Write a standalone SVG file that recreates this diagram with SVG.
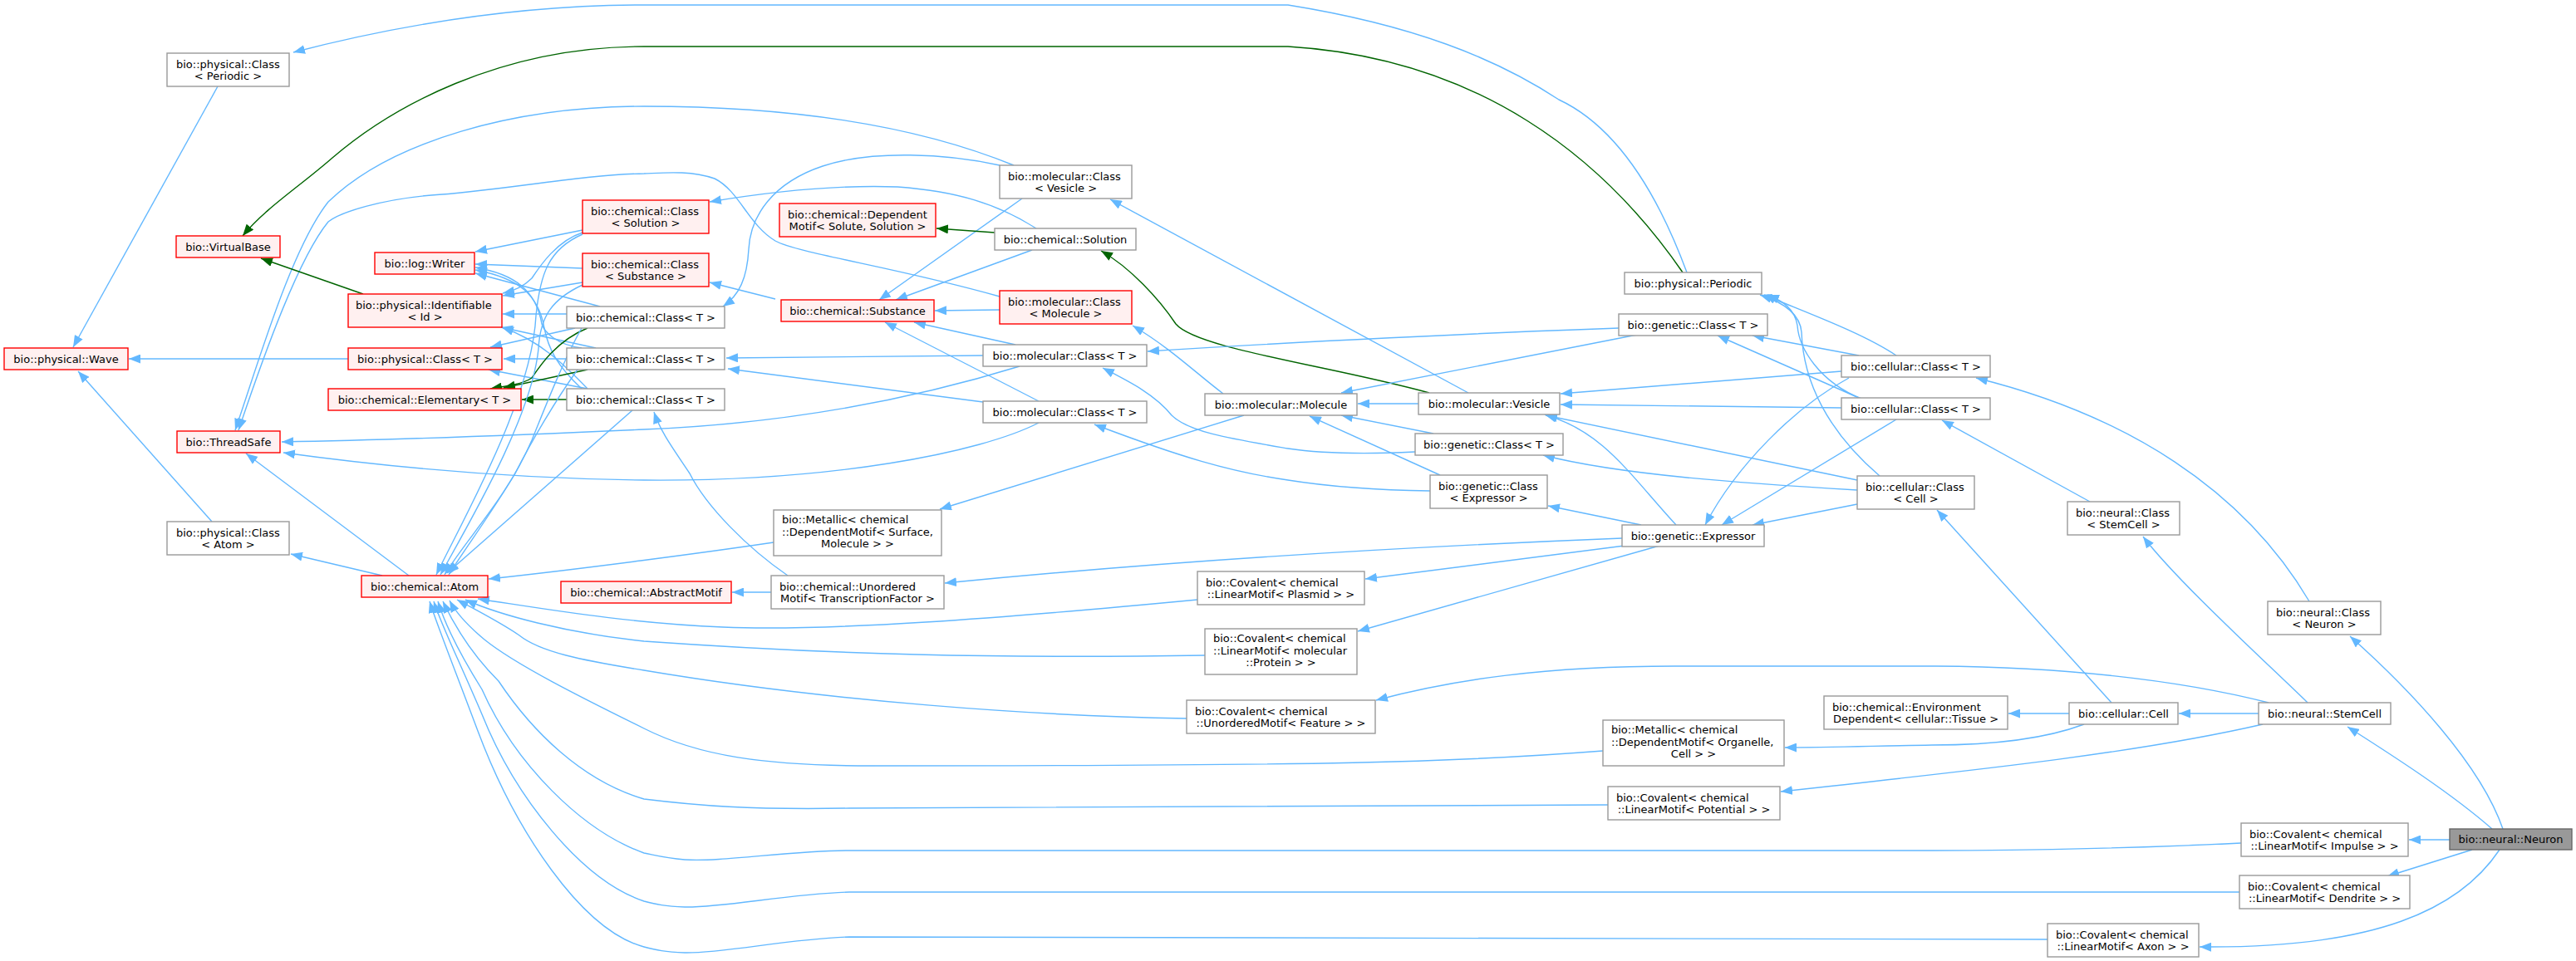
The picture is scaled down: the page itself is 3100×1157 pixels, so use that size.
<svg xmlns="http://www.w3.org/2000/svg" width="3100" height="1157" viewBox="0 0 3100 1157">
<style>
.bg{fill:#ffffff}
.nr{fill:#fff0f0;stroke:#ff0000;stroke-width:1.4}
.nw{fill:#ffffff;stroke:#999999;stroke-width:1.4}
.ng{fill:#999999;stroke:#666666;stroke-width:1.4}
text{font-family:"DejaVu Sans","Liberation Sans",sans-serif;font-size:13px;fill:#000000}
.c{text-anchor:middle}
.l{text-anchor:start}
.e{fill:none;stroke:#63b8ff;stroke-width:1.4;marker-end:url(#ab)}
.g{fill:none;stroke:#006400;stroke-width:1.4;marker-end:url(#ag)}
</style>
<defs>
<marker id="ab" markerUnits="userSpaceOnUse" markerWidth="15" markerHeight="11" refX="14" refY="5.5" orient="auto"><path d="M0,0 L14,5.5 L0,11 z" fill="#63b8ff"/></marker>
<marker id="ag" markerUnits="userSpaceOnUse" markerWidth="15" markerHeight="11" refX="14" refY="5.5" orient="auto"><path d="M0,0 L14,5.5 L0,11 z" fill="#006400"/></marker>
</defs>
<rect class="bg" x="0" y="0" width="3100" height="1157"/>

<g id="connectors">
<!-- Neuron -->
<path class="e" d="M2948,1011 L2899,1011"/>
<path class="e" d="M2975,1023 L2873,1055"/>
<path class="e" d="M3008,1023 C2960,1095 2860,1142 2647,1140"/>
<path class="e" d="M2999,998 C2950,955 2880,910 2825,875"/>
<path class="e" d="M3012,998 C2985,920 2900,830 2828,766"/>
<!-- StemCell -->
<path class="e" d="M2718,859 L2622,859"/>
<path class="e" d="M2777,846 C2730,800 2620,700 2579,646"/>
<path class="e" d="M2730,846 C2620,818 2480,803 2330,802 L2015,802 C1860,802 1750,818 1656,843"/>
<path class="e" d="M2723,872 C2580,905 2400,925 2143,953"/>
<!-- cellular::Cell -->
<path class="e" d="M2490,859 L2417,859"/>
<path class="e" d="M2541,846 L2331,614"/>
<path class="e" d="M2508,872 C2460,890 2400,897 2325,897 C2260,898 2200,900 2148,900"/>
<!-- neural classes -->
<path class="e" d="M2779,724 C2700,590 2560,500 2378,455"/>
<path class="e" d="M2515,604 L2337,506"/>
<!-- cellular::Class T1 -->
<path class="e" d="M2237,428 L2109,404"/>
<path class="e" d="M2216,447 L1878,474"/>
<path class="e" d="M2282,428 C2240,400 2170,375 2123,355"/>
<path class="e" d="M2225,455 C2160,490 2090,560 2052,632"/>
<!-- cellular::Class T2 -->
<path class="e" d="M2216,491 L1878,487"/>
<path class="e" d="M2237,479 L2067,404"/>
<path class="e" d="M2240,480 C2190,460 2165,420 2163,392 C2160,372 2145,362 2127,355"/>
<path class="e" d="M2282,505 L2072,632"/>
<!-- cellular::Class<Cell> -->
<path class="e" d="M2262,573 C2200,520 2170,460 2168,400 C2166,375 2140,362 2118,355"/>
<path class="e" d="M2235,578 L1860,500"/>
<path class="e" d="M2235,590 C2100,582 1950,572 1857,548"/>
<path class="e" d="M2235,607 L2109,632"/>
<!-- Expressor -->
<path class="e" d="M1975,632 L1863,609"/>
<path class="e" d="M2017,632 C1960,570 1930,520 1859,499"/>
<path class="e" d="M1952,648 C1700,658 1400,676 1137,702"/>
<path class="e" d="M1955,657 L1643,697"/>
<path class="e" d="M1997,657 L1634,760"/>
<!-- Vesicle -->
<path class="e" d="M1707,486 L1634,486"/>
<path class="e" d="M1767,473 L1336,240"/>
<path class="g" d="M1720,473 C1600,440 1440,420 1415,390 C1395,360 1360,322 1325,302"/>
<!-- genetic classes -->
<path class="e" d="M1970,403 L1614,473"/>
<path class="e" d="M1948,395 C1800,400 1550,412 1381,423"/>
<path class="e" d="M1725,522 L1614,500"/>
<path class="e" d="M1703,544 C1640,547 1590,546 1550,540 C1480,528 1430,520 1410,500 C1390,475 1360,460 1327,443"/>
<path class="e" d="M1733,572 L1576,501"/>
<path class="e" d="M1721,591 C1650,590 1600,586 1550,578 C1480,568 1420,550 1317,511"/>
<!-- Molecule -->
<path class="e" d="M1472,474 C1440,450 1410,420 1363,392"/>
<path class="e" d="M1497,500 L1131,613"/>
<!-- to Substance -->
<path class="e" d="M1230,239 L1058,361"/>
<path class="e" d="M1242,301 L1078,361"/>
<path class="e" d="M1203,373 L1125,374"/>
<path class="e" d="M1222,415 L1100,388"/>
<path class="e" d="M1250,483 L1065,388"/>
<!-- Solution -->
<path class="g" d="M1197,280 L1127,275"/>
<path class="e" d="M1247,275 C1200,245 1150,230 1080,225 C1000,222 920,232 854,243"/>
<path class="e" d="M933,360 L854,340"/>
<!-- long ones to ThreadSafe -->
<path class="e" d="M1220,199 C1100,150 950,128 775,128 C620,128 470,170 395,243 C350,300 310,440 283,518"/>
<path class="e" d="M1203,357 C1080,322 960,305 933,290 C900,270 890,230 860,215 C830,205 800,208 775,209 C700,210 600,230 519,235 C460,240 410,255 395,267 C360,310 320,420 287,518"/>
<path class="e" d="M1227,441 C1100,480 950,510 775,517 C600,525 450,530 339,532"/>
<path class="e" d="M1250,509 C1180,545 1000,580 775,578 C600,576 450,560 341,545"/>
<!-- molecular::Class T to chemical::Class T -->
<path class="e" d="M1183,428 L874,431"/>
<path class="e" d="M1183,484 L876,444"/>
<path class="e" d="M1203,199 C1140,185 1050,180 990,200 C930,220 903,260 901,300 C899,335 890,355 870,369"/>
<!-- Unordered / Metallic -->
<path class="e" d="M928,713 L881,713"/>
<path class="e" d="M948,693 C900,660 850,610 830,570 C810,540 795,520 787,496"/>
<path class="e" d="M931,653 C850,665 700,685 588,697"/>
<!-- Bottom curves to Atom -->
<path class="e" d="M1441,722 C1200,745 1000,760 870,755 C750,750 650,732 575,721"/>
<path class="e" d="M1450,789 C1200,793 1000,788 775,772 C680,762 600,740 560,722"/>
<path class="e" d="M1428,865 C1250,862 1000,845 775,807 C700,795 650,785 625,765 C600,748 570,733 550,722"/>
<path class="e" d="M1929,904 C1750,918 1600,922 1050,922 C920,922 840,910 775,877 C700,840 620,800 583,770 C565,755 550,740 541,723"/>
<path class="e" d="M1935,969 L1022,973 C900,975 840,970 775,962 C700,940 640,880 600,820 C570,790 550,760 533,724"/>
<path class="e" d="M2697,1015 C2600,1020 2450,1024 2325,1024 L1022,1024 C950,1024 870,1038 824,1035 C800,1033 790,1030 775,1027 C700,1000 620,920 580,830 C555,790 535,750 527,724"/>
<path class="e" d="M2695,1074 L1022,1074 C950,1076 870,1093 824,1092 C800,1091 790,1089 775,1085 C700,1060 620,960 580,860 C550,790 530,750 522,724"/>
<path class="e" d="M2464,1131 L1022,1128 C950,1130 870,1148 824,1147 C800,1146 790,1144 775,1140 C700,1120 620,1000 575,880 C545,800 525,750 517,724"/>
<!-- chemical::Class cluster -->
<path class="e" d="M701,277 L572,303"/>
<path class="e" d="M701,323 L572,318"/>
<path class="e" d="M722,369 L572,329"/>
<path class="e" d="M700,419 C670,415 655,400 652,390 C645,350 620,330 572,322"/>
<path class="e" d="M700,468 C670,440 660,420 655,395 C648,355 625,335 572,325"/>
<path class="e" d="M701,280 C670,290 650,320 640,335 C630,345 620,350 605,353"/>
<path class="e" d="M701,340 L605,356"/>
<path class="e" d="M682,378 L605,378"/>
<path class="e" d="M717,419 L603,394"/>
<path class="e" d="M707,468 C680,440 650,410 604,394"/>
<path class="e" d="M692,395 L590,418"/>
<path class="e" d="M682,432 L606,432"/>
<path class="e" d="M707,468 L588,445"/>
<path class="g" d="M707,395 C670,410 650,440 640,455 C630,462 610,465 590,468"/>
<path class="g" d="M707,445 L606,467"/>
<path class="g" d="M682,481 L628,481"/>
<path class="e" d="M701,282 C660,300 650,330 645,380 C640,480 560,620 525,692"/>
<path class="e" d="M701,343 C665,360 650,380 648,420 C640,500 570,620 530,692"/>
<path class="e" d="M700,395 C680,430 660,480 640,530 C610,600 560,650 535,692"/>
<path class="e" d="M695,445 C670,480 640,530 620,570 C590,620 560,660 540,692"/>
<path class="e" d="M761,494 L538,690"/>
<!-- left side -->
<path class="e" d="M460,693 L350,667"/>
<path class="e" d="M492,693 L296,546"/>
<path class="e" d="M255,628 L94,447"/>
<path class="e" d="M419,432 L155,432"/>
<path class="e" d="M262,104 L88,418"/>
<path class="g" d="M437,354 L314,311"/>
<path class="g" d="M2025,328 C1930,190 1780,70 1550,56 L775,56 C600,56 470,130 400,190 C360,225 320,250 292,284"/>
<path class="e" d="M2030,328 C1990,220 1940,150 1876,120 C1800,70 1700,30 1550,6 L775,6 C620,6 480,30 353,63"/>
</g>

<g id="n_wave"><rect class="nr" x="5" y="419" width="149" height="26"/><text class="c" x="79.5" y="436.6">bio::physical::Wave</text></g>
<g id="n_physclass_periodic"><rect class="nw" x="201" y="64" width="147" height="40"/><text class="l" x="212" y="82">bio::physical::Class</text><text class="c" x="274.5" y="96">&lt; Periodic &gt;</text></g>
<g id="n_virtualbase"><rect class="nr" x="212" y="284" width="125" height="26"/><text class="c" x="274.5" y="301.6">bio::VirtualBase</text></g>
<g id="n_threadsafe"><rect class="nr" x="213" y="519" width="124" height="26"/><text class="c" x="275" y="536.6">bio::ThreadSafe</text></g>
<g id="n_physclass_atom"><rect class="nw" x="201" y="628" width="147" height="40"/><text class="l" x="212" y="646">bio::physical::Class</text><text class="c" x="274.5" y="660">&lt; Atom &gt;</text></g>
<g id="n_logwriter"><rect class="nr" x="451" y="304" width="120" height="26"/><text class="c" x="511" y="321.6">bio::log::Writer</text></g>
<g id="n_identifiable"><rect class="nr" x="419" y="354" width="185" height="40"/><text class="l" x="428" y="372">bio::physical::Identifiable</text><text class="c" x="511.5" y="386">&lt; Id &gt;</text></g>
<g id="n_physclass_t"><rect class="nr" x="419" y="419" width="185" height="26"/><text class="c" x="511.5" y="436.6">bio::physical::Class&lt; T &gt;</text></g>
<g id="n_elementary"><rect class="nr" x="395" y="468" width="232" height="26"/><text class="c" x="511" y="485.6">bio::chemical::Elementary&lt; T &gt;</text></g>
<g id="n_atom"><rect class="nr" x="435" y="693" width="152" height="26"/><text class="c" x="511" y="710.6">bio::chemical::Atom</text></g>
<g id="n_chemclass_solution"><rect class="nr" x="701" y="241" width="152" height="40"/><text class="l" x="711" y="259">bio::chemical::Class</text><text class="c" x="777" y="273">&lt; Solution &gt;</text></g>
<g id="n_chemclass_substance"><rect class="nr" x="701" y="305" width="152" height="40"/><text class="l" x="711" y="323">bio::chemical::Class</text><text class="c" x="777" y="337">&lt; Substance &gt;</text></g>
<g id="n_chemclass_t1"><rect class="nw" x="682" y="369" width="190" height="26"/><text class="c" x="777" y="386.6">bio::chemical::Class&lt; T &gt;</text></g>
<g id="n_chemclass_t2"><rect class="nw" x="682" y="419" width="190" height="26"/><text class="c" x="777" y="436.6">bio::chemical::Class&lt; T &gt;</text></g>
<g id="n_chemclass_t3"><rect class="nw" x="682" y="468" width="190" height="26"/><text class="c" x="777" y="485.6">bio::chemical::Class&lt; T &gt;</text></g>
<g id="n_abstractmotif"><rect class="nr" x="675" y="700" width="205" height="26"/><text class="c" x="777.5" y="717.6">bio::chemical::AbstractMotif</text></g>
<g id="n_dependentmotif"><rect class="nr" x="938" y="245" width="188" height="40"/><text class="l" x="948" y="263">bio::chemical::Dependent</text><text class="c" x="1032" y="277">Motif&lt; Solute, Solution &gt;</text></g>
<g id="n_substance"><rect class="nr" x="940" y="361" width="184" height="26"/><text class="c" x="1032" y="378.6">bio::chemical::Substance</text></g>
<g id="n_metallic_surface"><rect class="nw" x="931" y="614" width="202" height="55"/><text class="l" x="941" y="630">bio::Metallic&lt; chemical</text><text class="l" x="941" y="644.5">::DependentMotif&lt; Surface,</text><text class="c" x="1032" y="659">Molecule &gt; &gt;</text></g>
<g id="n_unordered_tf"><rect class="nw" x="928" y="693" width="208" height="40"/><text class="l" x="938" y="711">bio::chemical::Unordered</text><text class="c" x="1032" y="725">Motif&lt; TranscriptionFactor &gt;</text></g>
<g id="n_molclass_vesicle"><rect class="nw" x="1203" y="199" width="159" height="40"/><text class="l" x="1213" y="217">bio::molecular::Class</text><text class="c" x="1282.5" y="231">&lt; Vesicle &gt;</text></g>
<g id="n_solution"><rect class="nw" x="1197" y="275" width="170" height="26"/><text class="c" x="1282" y="292.6">bio::chemical::Solution</text></g>
<g id="n_molclass_molecule"><rect class="nr" x="1203" y="350" width="159" height="40"/><text class="l" x="1213" y="368">bio::molecular::Class</text><text class="c" x="1282.5" y="382">&lt; Molecule &gt;</text></g>
<g id="n_molclass_t1"><rect class="nw" x="1183" y="415" width="197" height="26"/><text class="c" x="1281.5" y="432.6">bio::molecular::Class&lt; T &gt;</text></g>
<g id="n_molclass_t2"><rect class="nw" x="1183" y="483" width="197" height="26"/><text class="c" x="1281.5" y="500.6">bio::molecular::Class&lt; T &gt;</text></g>
<g id="n_molecule"><rect class="nw" x="1450" y="474" width="183" height="26"/><text class="c" x="1541.5" y="491.6">bio::molecular::Molecule</text></g>
<g id="n_covalent_plasmid"><rect class="nw" x="1441" y="688" width="201" height="40"/><text class="l" x="1451" y="706">bio::Covalent&lt; chemical</text><text class="c" x="1541.5" y="720">::LinearMotif&lt; Plasmid &gt; &gt;</text></g>
<g id="n_covalent_protein"><rect class="nw" x="1450" y="757" width="183" height="55"/><text class="l" x="1460" y="773">bio::Covalent&lt; chemical</text><text class="l" x="1460" y="787.5">::LinearMotif&lt; molecular</text><text class="c" x="1541.5" y="802">::Protein &gt; &gt;</text></g>
<g id="n_covalent_feature"><rect class="nw" x="1428" y="843" width="227" height="40"/><text class="l" x="1438" y="861">bio::Covalent&lt; chemical</text><text class="c" x="1541.5" y="875">::UnorderedMotif&lt; Feature &gt; &gt;</text></g>
<g id="n_vesicle"><rect class="nw" x="1707" y="473" width="170" height="26"/><text class="c" x="1792" y="490.6">bio::molecular::Vesicle</text></g>
<g id="n_genclass_t_mid"><rect class="nw" x="1703" y="522" width="178" height="26"/><text class="c" x="1792" y="539.6">bio::genetic::Class&lt; T &gt;</text></g>
<g id="n_genclass_expressor"><rect class="nw" x="1721" y="572" width="141" height="40"/><text class="l" x="1731" y="590">bio::genetic::Class</text><text class="c" x="1791.5" y="604">&lt; Expressor &gt;</text></g>
<g id="n_periodic"><rect class="nw" x="1955" y="328" width="165" height="26"/><text class="c" x="2037.5" y="345.6">bio::physical::Periodic</text></g>
<g id="n_genclass_t_top"><rect class="nw" x="1948" y="378" width="179" height="26"/><text class="c" x="2037.5" y="395.6">bio::genetic::Class&lt; T &gt;</text></g>
<g id="n_expressor"><rect class="nw" x="1952" y="632" width="171" height="26"/><text class="c" x="2037.5" y="649.6">bio::genetic::Expressor</text></g>
<g id="n_metallic_organelle"><rect class="nw" x="1929" y="867" width="218" height="55"/><text class="l" x="1939" y="883">bio::Metallic&lt; chemical</text><text class="l" x="1939" y="897.5">::DependentMotif&lt; Organelle,</text><text class="c" x="2038" y="912">Cell &gt; &gt;</text></g>
<g id="n_covalent_potential"><rect class="nw" x="1935" y="947" width="207" height="40"/><text class="l" x="1945" y="965">bio::Covalent&lt; chemical</text><text class="c" x="2038.5" y="979">::LinearMotif&lt; Potential &gt; &gt;</text></g>
<g id="n_cellclass_t1"><rect class="nw" x="2216" y="428" width="179" height="26"/><text class="c" x="2305.5" y="445.6">bio::cellular::Class&lt; T &gt;</text></g>
<g id="n_cellclass_t2"><rect class="nw" x="2216" y="479" width="179" height="26"/><text class="c" x="2305.5" y="496.6">bio::cellular::Class&lt; T &gt;</text></g>
<g id="n_cellclass_cell"><rect class="nw" x="2235" y="573" width="141" height="40"/><text class="l" x="2245" y="591">bio::cellular::Class</text><text class="c" x="2305.5" y="605">&lt; Cell &gt;</text></g>
<g id="n_envdependent"><rect class="nw" x="2195" y="838" width="221" height="40"/><text class="l" x="2205" y="856">bio::chemical::Environment</text><text class="c" x="2305.5" y="870">Dependent&lt; cellular::Tissue &gt;</text></g>
<g id="n_neuralclass_stemcell"><rect class="nw" x="2488" y="604" width="135" height="40"/><text class="l" x="2498" y="622">bio::neural::Class</text><text class="c" x="2555.5" y="636">&lt; StemCell &gt;</text></g>
<g id="n_cellular_cell"><rect class="nw" x="2490" y="846" width="131" height="26"/><text class="c" x="2555.5" y="863.6">bio::cellular::Cell</text></g>
<g id="n_neuralclass_neuron"><rect class="nw" x="2729" y="724" width="136" height="40"/><text class="l" x="2739" y="742">bio::neural::Class</text><text class="c" x="2797" y="756">&lt; Neuron &gt;</text></g>
<g id="n_stemcell"><rect class="nw" x="2718" y="846" width="159" height="26"/><text class="c" x="2797.5" y="863.6">bio::neural::StemCell</text></g>
<g id="n_covalent_impulse"><rect class="nw" x="2697" y="991" width="201" height="40"/><text class="l" x="2707" y="1009">bio::Covalent&lt; chemical</text><text class="c" x="2797.5" y="1023">::LinearMotif&lt; Impulse &gt; &gt;</text></g>
<g id="n_neuron"><rect class="ng" x="2948" y="998" width="147" height="25"/><text class="c" x="3021.5" y="1015">bio::neural::Neuron</text></g>
<g id="n_covalent_dendrite"><rect class="nw" x="2695" y="1054" width="205" height="40"/><text class="l" x="2705" y="1072">bio::Covalent&lt; chemical</text><text class="c" x="2797.5" y="1086">::LinearMotif&lt; Dendrite &gt; &gt;</text></g>
<g id="n_covalent_axon"><rect class="nw" x="2464" y="1112" width="182" height="40"/><text class="l" x="2474" y="1130">bio::Covalent&lt; chemical</text><text class="c" x="2555" y="1144">::LinearMotif&lt; Axon &gt; &gt;</text></g>
</svg>
